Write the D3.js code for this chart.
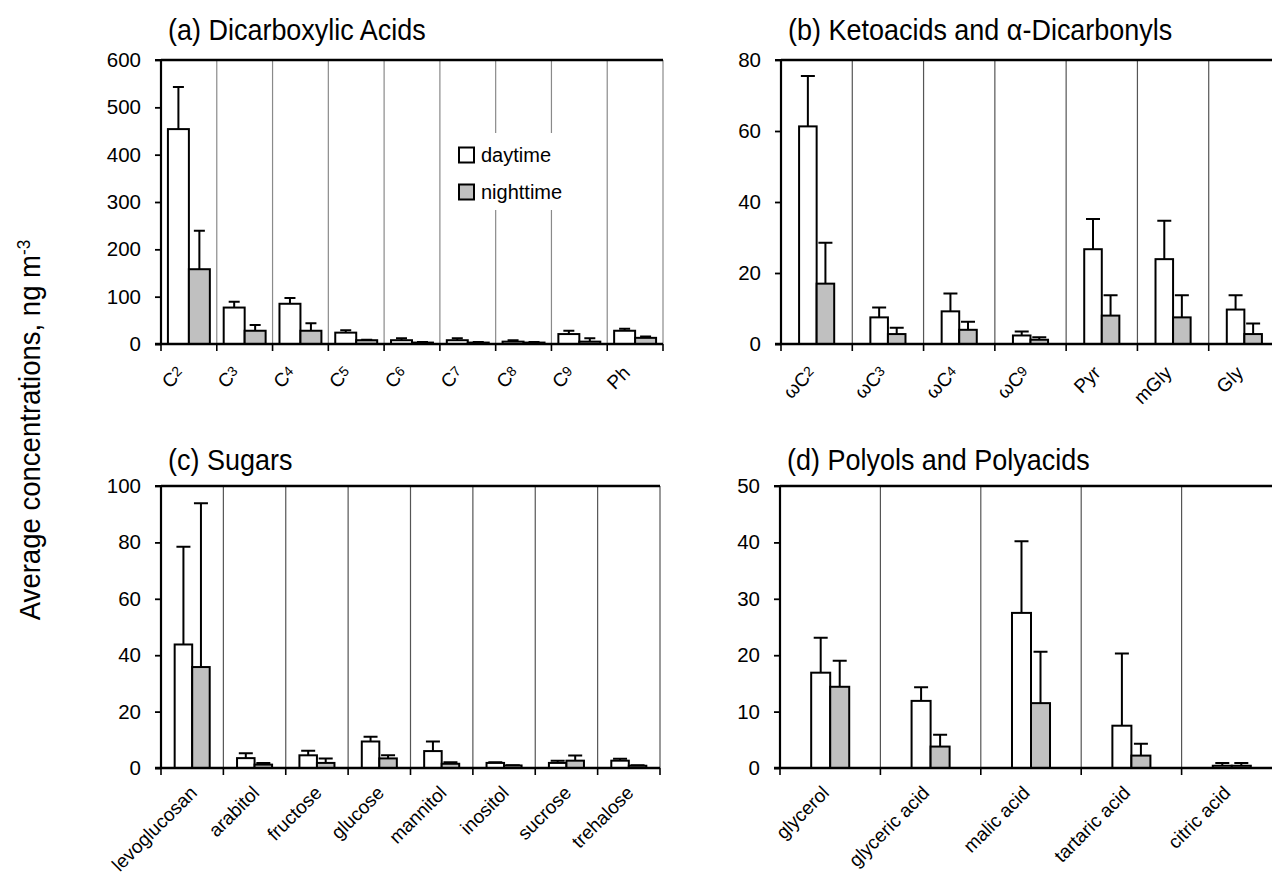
<!DOCTYPE html>
<html>
<head>
<meta charset="utf-8">
<script src="https://cdn.jsdelivr.net/npm/d3@7"></script>
<style>
  body { margin: 0; background: #fff; }
  svg text { font-family: "Liberation Sans", Arial, sans-serif; fill: #000; }
  .title { font-size: 29px; }
</style>
</head>
<body>
<svg id="chart" width="1272" height="874"></svg>
<script>
// (a) dicarboxylic acids
var catsA = ["C2", "C3", "C4", "C5", "C6", "C7", "C8", "C9", "Ph"];
var dayA = [454, 77, 85, 24, 8, 8, 5, 21, 28];
var daySdA = [89, 12, 12, 5, 4, 4, 3, 7, 4];
var nightA = [158, 28, 28, 8, 3, 3, 3, 5, 13];
var nightSdA = [81, 12, 16, 1, 1, 1, 1, 7, 3];
var ticksA = [0, 100, 200, 300, 400, 500, 600];

// (b) ketoacids and dicarbonyls
var catsB = ["\u03c9C2", "\u03c9C3", "\u03c9C4", "\u03c9C9", "Pyr", "mGly", "Gly"];
var dayB = [61.3, 7.5, 9.2, 2.4, 26.7, 23.9, 9.7];
var daySdB = [14.2, 2.8, 5.0, 1.1, 8.5, 10.8, 4.0];
var nightB = [17.0, 2.8, 4.0, 1.2, 8.0, 7.5, 2.8];
var nightSdB = [11.5, 1.8, 2.3, 0.7, 5.7, 6.2, 3.0];
var ticksB = [0, 20, 40, 60, 80];

// (c) sugars
var catsC = ["levoglucosan", "arabitol", "fructose", "glucose", "mannitol", "inositol", "sucrose", "trehalose"];
var dayC = [43.8, 3.5, 4.5, 9.4, 6.0, 1.8, 1.8, 2.6];
var daySdC = [34.7, 1.7, 1.6, 1.7, 3.4, 0.2, 0.8, 0.7];
var nightC = [35.8, 1.2, 1.8, 3.4, 1.5, 0.9, 2.6, 0.8];
var nightSdC = [58.1, 0.6, 1.6, 1.1, 0.5, 0.1, 1.8, 0.2];
var ticksC = [0, 20, 40, 60, 80, 100];

// (d) polyols and polyacids
var catsD = ["glycerol", "glyceric acid", "malic acid", "tartaric acid", "citric acid"];
var dayD = [16.9, 11.9, 27.5, 7.5, 0.4];
var daySdD = [6.2, 2.4, 12.7, 12.8, 0.5];
var nightD = [14.4, 3.8, 11.5, 2.2, 0.4];
var nightSdD = [4.6, 2.1, 9.1, 2.1, 0.5];
var ticksD = [0, 10, 20, 30, 40, 50];

var seriesNames = ["daytime", "nighttime"];
var fills = {daytime: "#ffffff", nighttime: "#c0c0c0"};

var svg = d3.select("#chart");

var panels = [
  {title: "(a) Dicarboxylic Acids", cats: catsA, day: dayA, daySd: daySdA, night: nightA, nightSd: nightSdA,
   ticks: ticksA, left: 161, right: 663, top: 60, bottom: 344, pad: 0.33, cap: 11, lx: -4, ly: 30, ty: 20, legend: true, grid: "#8a8a8a"},
  {title: "(b) Ketoacids and \u03b1-Dicarbonyls", cats: catsB, day: dayB, daySd: daySdB, night: nightB, nightSd: nightSdB,
   ticks: ticksB, left: 781, right: 1280, top: 60, bottom: 344, pad: 1.03, cap: 14, lx: 0, ly: 30, ty: 20, grid: "#555"},
  {title: "(c) Sugars", cats: catsC, day: dayC, daySd: daySdC, night: nightC, nightSd: nightSdC,
   ticks: ticksC, left: 161, right: 660, top: 486, bottom: 768, pad: 0.78, cap: 14, lx: 6, ly: 26, ty: 16, grid: "#555"},
  {title: "(d) Polyols and Polyacids", cats: catsD, day: dayD, daySd: daySdD, night: nightD, nightSd: nightSdD,
   ticks: ticksD, left: 780, right: 1282, top: 486, bottom: 768, pad: 1.64, cap: 14, lx: 0, ly: 26, ty: 16, grid: "#555"}
];

panels.forEach(function(p) {
  var g = svg.append("g");
  var x0 = d3.scaleBand().domain(p.cats).range([p.left, p.right]).padding(0);
  var x1 = d3.scaleBand().domain(seriesNames).range([0, x0.bandwidth()]).paddingInner(0).paddingOuter(p.pad);
  var y = d3.scaleLinear().domain([p.ticks[0], p.ticks[p.ticks.length - 1]]).range([p.bottom, p.top]);

  // vertical separators between categories
  var bounds = p.cats.map(function(c) { return x0(c); }).slice(1).concat([x0(p.cats[p.cats.length - 1]) + x0.bandwidth()]);
  g.selectAll(".sep").data(bounds).enter().append("line")
    .attr("x1", function(d) { return d; }).attr("x2", function(d) { return d; })
    .attr("y1", p.top).attr("y2", p.bottom)
    .attr("stroke", p.grid).attr("stroke-width", 1.2);

  if (p.legend) {
    var lg = g.append("g");
    lg.append("rect").attr("x", 456).attr("y", 133).attr("width", 146).attr("height", 77).attr("fill", "#fff");
    seriesNames.forEach(function(s, i) {
      var yy = 155 + i * 37;
      lg.append("rect").attr("x", 459).attr("y", yy - 7.5).attr("width", 15).attr("height", 15)
        .attr("fill", fills[s]).attr("stroke", "#000").attr("stroke-width", 2);
      lg.append("text").attr("x", 481).attr("y", yy).attr("dy", "0.35em")
        .style("font-size", "20px").text(s);
    });
  }

  var rows = p.cats.map(function(c, i) {
    return [{cat: c, s: "daytime", v: p.day[i], sd: p.daySd[i]},
            {cat: c, s: "nighttime", v: p.night[i], sd: p.nightSd[i]}];
  });
  var flat = [].concat.apply([], rows);

  // error bars (upper only)
  g.selectAll(".err").data(flat).enter().append("path")
    .attr("d", function(d) {
      var cx = x0(d.cat) + x1(d.s) + x1.bandwidth() / 2;
      var yt = y(d.v + d.sd);
      return "M" + cx + "," + y(d.v) + "V" + yt + "M" + (cx - p.cap / 2) + "," + yt + "H" + (cx + p.cap / 2);
    })
    .attr("stroke", "#000").attr("stroke-width", 2).attr("fill", "none");

  g.selectAll(".bar").data(flat).enter().append("rect")
    .attr("x", function(d) { return x0(d.cat) + x1(d.s); })
    .attr("width", x1.bandwidth())
    .attr("y", function(d) { return y(d.v); })
    .attr("height", function(d) { return y(0) - y(d.v); })
    .attr("fill", function(d) { return fills[d.s]; })
    .attr("stroke", "#000").attr("stroke-width", 2);

  // top frame
  g.append("line").attr("x1", p.left).attr("x2", p.right).attr("y1", p.top).attr("y2", p.top)
    .attr("stroke", "#000").attr("stroke-width", 2.4);

  // y axis
  var ya = g.append("g").attr("transform", "translate(" + p.left + ",0)")
    .call(d3.axisLeft(y).tickValues(p.ticks).tickSize(6).tickPadding(14));
  ya.select(".domain").attr("stroke-width", 2.2).attr("d", "M-6," + p.top + "H0V" + p.bottom);
  ya.selectAll(".tick line").attr("stroke-width", 1.8);
  ya.selectAll(".tick text").style("font-size", "20.5px").style("font-family", "'Liberation Sans', Arial, sans-serif");

  // x axis
  var xa = g.append("g").attr("transform", "translate(0," + p.bottom + ")")
    .call(d3.axisBottom(x0).tickSize(0).tickFormat(""));
  xa.select(".domain").attr("stroke-width", 2.4).attr("d", "M" + (p.left - 6) + ",0H" + p.right);
  g.selectAll(".xt").data([p.left].concat(bounds)).enter().append("line")
    .attr("x1", function(d) { return d; }).attr("x2", function(d) { return d; })
    .attr("y1", p.bottom).attr("y2", p.bottom + 7)
    .attr("stroke", "#000").attr("stroke-width", 1.6);

  // category labels, rotated
  g.selectAll(".cl").data(p.cats).enter().append("text")
    .attr("text-anchor", "end")
    .attr("transform", function(c) {
      return "translate(" + (x0(c) + x0.bandwidth() / 2 + p.lx) + "," + (p.bottom + p.ly) + ") rotate(-45)";
    })
    .style("font-size", "19px")
    .each(function(c) {
      var t = d3.select(this);
      var m = c.match(/^(.*?C)(\d)$/);
      if (m) {
        t.append("tspan").text(m[1]);
        t.append("tspan").attr("dy", -3).style("font-size", "14px").text(m[2]);
      } else {
        t.text(c);
      }
    });

  // title, drawn slightly condensed
  g.append("text").attr("class", "title")
    .attr("transform", "translate(" + (p.left + 7) + "," + (p.top - p.ty) + ") scale(0.93,1)")
    .text(p.title);
});

// shared y title
var yt = svg.append("text").attr("class", "title")
  .attr("text-anchor", "middle")
  .attr("transform", "translate(40,430) rotate(-90) scale(0.95,1)");
yt.append("tspan").text("Average concentrations, ng m");
yt.append("tspan").attr("dy", -10).style("font-size", "18px").text("-3");
</script>
</body>
</html>
